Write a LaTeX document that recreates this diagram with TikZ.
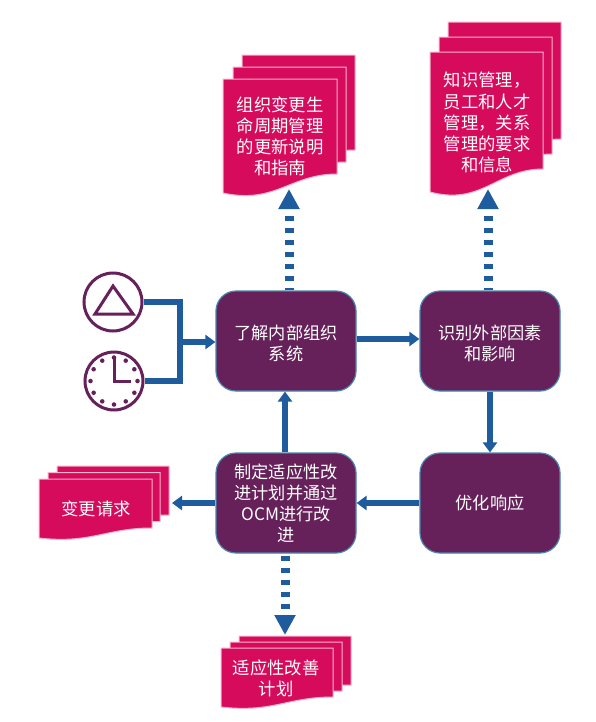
\documentclass[tikz,border=0pt]{standalone}
\usepackage{fontspec}
\setmainfont{Noto Sans CJK SC}
\usetikzlibrary{arrows.meta,calc}
\definecolor{pinkf}{HTML}{D60B5C}
\definecolor{pinkl}{HTML}{F6B4CC}
\definecolor{purp}{HTML}{66215A}
\definecolor{purpl}{HTML}{4A86AE}
\definecolor{flow}{HTML}{1F5C9E}
\tikzset{
  x=0.75pt,y=-0.75pt,
  sheet/.style={fill=pinkf,draw=pinkl,line width=0.75pt},
  doctext/.style={text=white,align=center,inner sep=0pt,font=\fontsize{13}{15.8}\selectfont},
  boxtext/.style={text=white,align=center,inner sep=0pt,font=\fontsize{12.9}{15.8}\selectfont},
  procbox/.style={fill=purp,draw=purpl,line width=0.9pt,rounded corners=15pt,minimum width=105pt,minimum height=75pt,inner sep=0pt,text=white,align=center,font=\fontsize{12.9}{15.8}\selectfont},
  iconring/.style={circle,draw=purp,line width=2.25pt,minimum size=43.5pt,inner sep=0pt,fill=white},
  iconline/.style={draw=purp,line width=2.25pt},
  flowline/.style={draw=flow,line width=4.4pt},
  flowarrow/.style={flowline,-{Triangle[length=7.5pt,width=10.5pt]}},
  outarrow/.style={draw=flow,line width=6.75pt,dash pattern=on 3.75pt off 5.25pt,-{Triangle[length=15pt,width=15pt]}},
}
% x, top, width, right-bottom, left-bottom
\newcommand{\docsheet}[5]{%
  \draw[sheet] (#1,#2) -- ({#1+#3},#2) -- ({#1+#3},#4)
    .. controls ({#1+0.59*#3},#4) and ({#1+0.46*#3},{#5+0.6*(#5-#4)}) .. (#1,#5) -- cycle;}
\begin{document}
\begin{tikzpicture}
\useasboundingbox[fill=white] (0,0) rectangle (596,722);

% document stacks
\docsheet{242}{55}{113}{150}{169}
\docsheet{233}{67}{113}{162}{181}
\docsheet{223}{79}{114}{174}{193}
\node[doctext] (d1) at (280,136.5) {组织变更生\\命周期管理\\的更新说明\\和指南};

\docsheet{448}{22}{113}{139}{162}
\docsheet{439}{37}{113}{154}{177}
\docsheet{430}{52}{113}{169}{192}
\node[doctext] (d2) at (487,122.5) {知识管理，\\员工和人才\\管理，关系\\管理的要求\\和信息};

\docsheet{57}{466}{112}{515}{525}
\docsheet{48}{472.5}{112}{521.5}{531.5}
\docsheet{39}{479}{113}{528}{538}
\node[doctext] (d3) at (96,509) {变更请求};

\docsheet{239}{636}{112}{685}{695}
\docsheet{230}{642}{112}{691}{701}
\docsheet{221}{648}{112}{697}{707}
\node[doctext] (d4) at (276,678) {适应性改善\\计划};

% connector ends and bends
\coordinate (t1) at (289,189);
\coordinate (t2) at (488,189);
\coordinate (t3) at (285,635);
\coordinate (t4) at (172,503);
\coordinate (j) at (180,342);

% process boxes
\node[procbox] (A) at (286,341) {};
\node[boxtext] (At) at (286,343) {了解内部组织\\系统};
\node[procbox] (B) at (490,341) {};
\node[boxtext] (Bt) at (490,343) {识别外部因素\\和影响};
\node[procbox] (C) at (490,503) {优化响应};
\node[procbox] (D) at (286,503) {制定适应性改\\进计划并通过\\OCM进行改\\进};

% icons
\node[iconring] (tri) at (113,302) {};
\node[iconring] (clk) at (114,381) {};
\draw[iconline,line join=miter] (113,286) -- (133,314) -- (95,314) -- cycle;
\draw[iconline] (114,358) -- (114,381) -- (131,381);
\foreach \a in {0,30,...,330}
  \fill[purp] ($(clk.center)+(\a:23.5)$) circle (1.7pt);

% flow
\draw[flowline,line join=miter] (tri.east) -| (j) |- (clk.east);
\draw[flowarrow] (j) -- (A.west |- j);
\draw[flowarrow] (A.east |- 0,339) -- (B.west |- 0,339);
\draw[flowarrow] (B.south -| 490,0) -- (C.north -| 490,0);
\draw[flowarrow] (C.west) -- (D.east);
\draw[flowarrow] (D.north -| 285,0) -- (A.south -| 285,0);
\draw[flowarrow] (D.west) -- (t4);

% dashed outputs
\draw[outarrow,dash phase=2pt] (A.north -| t1) -- (t1);
\draw[outarrow,dash phase=2pt] (B.north -| t2) -- (t2);
\draw[outarrow,dash phase=7.5pt] (D.south -| t3) -- (t3);
\end{tikzpicture}
\end{document}
